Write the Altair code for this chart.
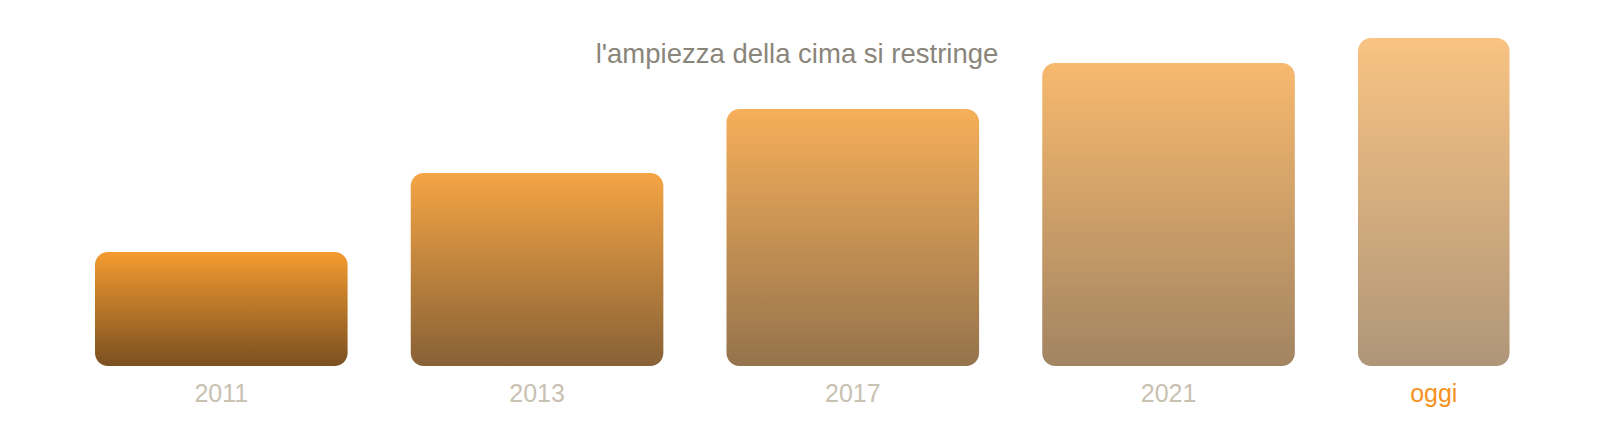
import altair as alt
import pandas as pd

# data
labels = ["2011", "2013", "2017", "2021", "oggi"]
heights = [114, 193, 257, 303, 328]
widths = [1.0, 1.0, 1.0, 1.0, 0.6]
opacities = [1.0, 0.9, 0.8, 0.7, 0.6]
label_colors = ["#c9c1b2", "#c9c1b2", "#c9c1b2", "#c9c1b2", "#f5921e"]
title_text = "l'ampiezza della cima si restringe"

GAP = 0.25
starts = []
pos = 0.0
for w in widths:
    starts.append(pos)
    pos += w + GAP

df = pd.DataFrame({
    "label": labels,
    "h": heights,
    "x0": starts,
    "x1": [s + w for s, w in zip(starts, widths)],
    "mid": [s + w / 2 for s, w in zip(starts, widths)],
    "op": opacities,
    "lc": label_colors,
    "zero": [0] * len(labels),
})

W, H = 1584, 426
xs = alt.Scale(domain=[-0.3444, 5.9264], range=[0, W], nice=False, zero=False)
ys = alt.Scale(domain=[-68, 358], range=[H, 0], nice=False, zero=False)

grad = alt.Gradient(
    gradient="linear",
    stops=[alt.GradientStop(color="#f49b30", offset=0),
           alt.GradientStop(color="#7a5020", offset=1)],
    x1=0, x2=0, y1=0, y2=1,
)

bars = alt.Chart(df).mark_bar(color=grad, cornerRadius=13).encode(
    x=alt.X("x0:Q", scale=xs, axis=None),
    x2="x1:Q",
    y=alt.Y("h:Q", scale=ys, axis=None),
    y2="zero:Q",
    fillOpacity=alt.FillOpacity("op:Q", scale=None, legend=None),
)

lbls = alt.Chart(df).mark_text(
    fontSize=25, font="Liberation Sans", baseline="alphabetic", dy=36
).encode(
    x=alt.X("mid:Q", scale=xs),
    y=alt.Y("zero:Q", scale=ys),
    text="label:N",
    color=alt.Color("lc:N", scale=None),
)

title = alt.Chart(pd.DataFrame({"t": [title_text]})).mark_text(
    fontSize=27.5, font="Liberation Sans", color="#8a857a", baseline="alphabetic"
).encode(
    x=alt.value(789), y=alt.value(55), text="t:N"
)

chart = alt.layer(bars, lbls, title).properties(
    width=W, height=H,
    autosize=alt.AutoSizeParams(type="none"),
    padding=0,
).configure_view(stroke=None)

chart.save("out.html", embed_options={"renderer": "svg", "actions": False})
